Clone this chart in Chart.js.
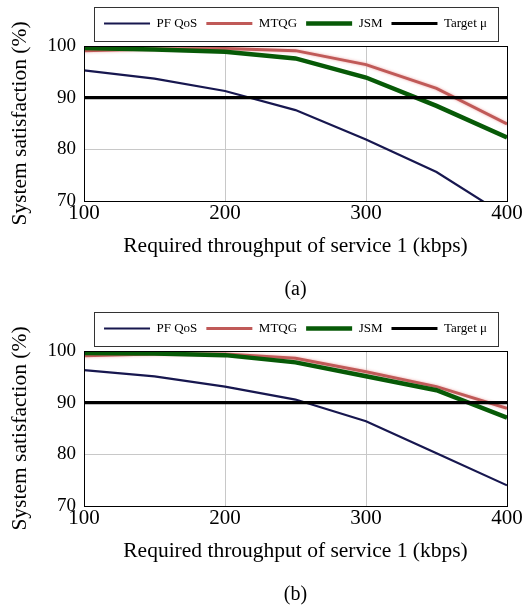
<!DOCTYPE html>
<html>
<head>
<meta charset="utf-8">
<script src="https://cdn.jsdelivr.net/npm/chart.js@4"></script>
<style>
  html, body { margin: 0; padding: 0; background: #fff; }
  .panel { position: relative; width: 530px; height: 305px; }
</style>
</head>
<body>
<div class="panel"><canvas id="chartA"></canvas></div>
<div class="panel"><canvas id="chartB"></canvas></div>
<script>
// Required throughput of service 1 (kbps)
const throughput = [100, 150, 200, 250, 300, 350, 400];

// System satisfaction (%) — scenario (a)
const pfQosA = [95.3, 93.7, 91.3, 87.6, 81.9, 75.6, 67.0];
const mtqgA  = [99.1, 99.4, 99.5, 99.1, 96.4, 91.8, 84.9];
const jsmA   = [99.6, 99.3, 98.9, 97.6, 93.9, 88.4, 82.3];

// System satisfaction (%) — scenario (b)
const pfQosB = [96.3, 95.1, 93.1, 90.6, 86.4, 80.2, 74.0];
const mtqgB  = [99.1, 99.4, 99.4, 98.6, 96.0, 93.1, 88.9];
const jsmB   = [99.6, 99.5, 99.2, 97.8, 95.1, 92.4, 87.1];

// Satisfaction target
const targetMu = [90, 90, 90, 90, 90, 90, 90];

const seriesNames = ['PF QoS', 'MTQG', 'JSM', 'Target \u03bc'];
const xTicks = [100, 200, 300, 400];
const yTicks = [70, 80, 90, 100];
const captions = ['(a)', '(b)'];

const SERIF = '"Liberation Serif", "DejaVu Serif", serif';

const toPoints = (vals) => vals.map((v, i) => ({ x: throughput[i], y: v }));

// Box around the legend and a full frame around the plot area
const framePlugin = {
  id: 'frame',
  afterDraw(chart) {
    const ctx = chart.ctx;
    const a = chart.chartArea;
    ctx.save();
    ctx.strokeStyle = '#000';
    ctx.lineWidth = 1;
    ctx.strokeRect(Math.round(a.left) + 0.5, Math.round(a.top) + 0.5,
                   Math.round(a.right - a.left), Math.round(a.bottom - a.top));
    const boxes = chart.legend && chart.legend.legendHitBoxes;
    if (boxes && boxes.length) {
      let l = Infinity, r = -Infinity, t = Infinity, b = -Infinity;
      boxes.forEach(h => {
        l = Math.min(l, h.left); r = Math.max(r, h.left + h.width);
        t = Math.min(t, h.top); b = Math.max(b, h.top + h.height);
      });
      const cy = (t + b) / 2;
      ctx.strokeStyle = '#333';
      ctx.strokeRect(Math.round(l - 10) + 0.5, Math.round(cy - 17) + 0.5,
                     Math.round(r - l + 21), 34);
    }
    ctx.restore();
  }
};

// Soft pink halo under the MTQG curve
const haloPlugin = {
  id: 'halo',
  beforeDatasetDraw(chart, args) {
    if (args.index === 1) {
      const ctx = chart.ctx;
      ctx.save();
      ctx.shadowColor = 'rgba(236, 165, 165, 0.95)';
      ctx.shadowBlur = 3;
    }
  },
  afterDatasetDraw(chart, args) {
    if (args.index === 1) chart.ctx.restore();
  }
};

function makeChart(id, pf, mtqg, jsm, caption) {
  const series = [pf, mtqg, jsm, targetMu];
  const colors = ['#17174f', '#c05a58', '#075a07', '#000000'];
  const widths = [2.2, 3, 4.5, 3.2];
  const orders = [3, 2, 1, 0];
  const datasets = series.map((vals, i) => ({
    label: seriesNames[i],
    data: toPoints(vals),
    borderColor: colors[i],
    backgroundColor: colors[i],
    borderWidth: widths[i],
    pointRadius: 0,
    tension: 0,
    fill: false,
    order: orders[i]
  }));

  const chart = new Chart(document.getElementById(id), {
    type: 'line',
    data: { datasets },
    plugins: [framePlugin, haloPlugin],
    options: {
      responsive: true,
      maintainAspectRatio: false,
      animation: false,
      events: [],
      layout: { padding: { left: 0, right: 23, top: 8, bottom: 3 } },
      scales: {
        x: {
          type: 'linear',
          min: 100, max: 400,
          afterBuildTicks(scale) { scale.ticks = xTicks.map(v => ({ value: v })); },
          afterFit(scale) { scale.height = 77; },
          grid: { color: '#c8c8c8', lineWidth: 1, drawTicks: false },
          border: { display: true, color: '#000', width: 1 },
          ticks: { color: '#000', padding: 0, font: { family: SERIF, size: 21 } },
          title: {
            display: true,
            text: 'Required throughput of service 1 (kbps)',
            color: '#000',
            font: { family: SERIF, size: 21.5 },
            padding: { top: 0, bottom: 18.6 }
          }
        },
        y: {
          type: 'linear',
          min: 70, max: 100,
          afterBuildTicks(scale) { scale.ticks = yTicks.map(v => ({ value: v })); },
          afterFit(scale) { scale.width = 84; },
          grid: { color: '#c8c8c8', lineWidth: 1, drawTicks: false },
          border: { display: true, color: '#000', width: 1 },
          ticks: { color: '#000', padding: 8, font: { family: SERIF, size: 19 } },
          title: {
            display: true,
            text: 'System satisfaction (%)',
            color: '#000',
            font: { family: SERIF, size: 21.5 },
            padding: { top: 7.1, bottom: 0 }
          }
        }
      },
      plugins: {
        legend: {
          display: true,
          position: 'top',
          fullSize: false,
          labels: {
            usePointStyle: true,
            pointStyle: 'line',
            pointStyleWidth: 46,
            padding: 9,
            color: '#000',
            font: { family: SERIF, size: 13 },
            sort: (a, b) => a.datasetIndex - b.datasetIndex
          }
        },
        title: {
          display: true,
          text: caption,
          position: 'bottom',
          fullSize: false,
          color: '#000',
          font: { family: SERIF, size: 20, weight: 'normal' },
          padding: { top: 0, bottom: 0 }
        },
        tooltip: { enabled: false }
      }
    }
  });

  // leave a little extra room between the legend box and the plot frame
  const baseFit = chart.legend.fit.bind(chart.legend);
  chart.legend.fit = function () { baseFit(); this.height += 6; };
  chart.update();
  return chart;
}

makeChart('chartA', pfQosA, mtqgA, jsmA, captions[0]);
makeChart('chartB', pfQosB, mtqgB, jsmB, captions[1]);
</script>
</body>
</html>
